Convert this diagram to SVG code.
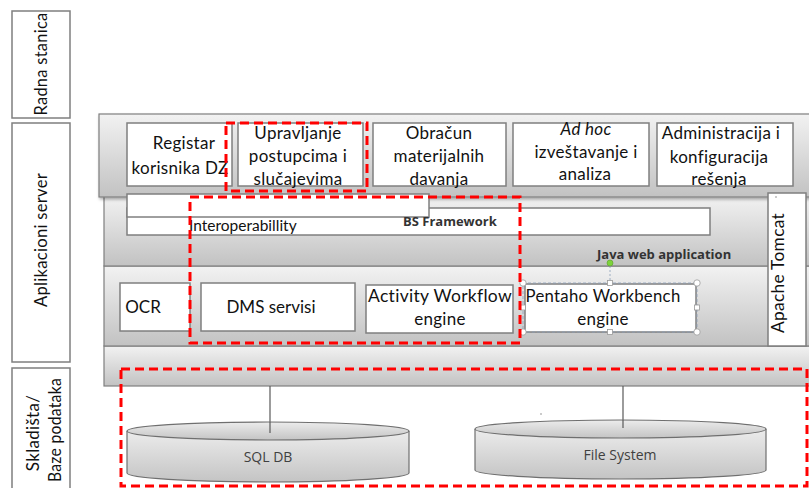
<svg xmlns="http://www.w3.org/2000/svg" width="809" height="488" viewBox="0 0 809 488">
<defs>
<linearGradient id="band" x1="0" y1="0" x2="0" y2="1">
<stop offset="0" stop-color="#f2f2f2"/>
<stop offset="1" stop-color="#c2c2c2"/>
</linearGradient>
<linearGradient id="cyl" x1="0" y1="0" x2="0" y2="1">
<stop offset="0" stop-color="#ececec"/>
<stop offset="1" stop-color="#c4c4c4"/>
</linearGradient>
<filter id="sh" x="-5%" y="-5%" width="110%" height="120%">
<feDropShadow dx="1" dy="2" stdDeviation="1.5" flood-color="#000" flood-opacity="0.3"/>
</filter>
</defs>
<style>
.lbl{fill:#fff;stroke:#7f7f7f;stroke-width:1.5}
.box{fill:#fff;stroke:#7f7f7f;stroke-width:1.5}
.band{fill:url(#band);stroke:#7f7f7f;stroke-width:1.2}
.t{font-family:Lato,"Liberation Sans",sans-serif;font-size:17px;letter-spacing:0.3px;fill:#111;text-anchor:middle}
.tb{font-family:"Open Sans","Liberation Sans",sans-serif;font-size:13px;font-weight:bold;fill:#333}
.red{fill:none;stroke:#ff0000;stroke-width:3;stroke-dasharray:9 5}
.cyl{fill:url(#cyl);stroke:#6f6f6f;stroke-width:1.2}
.ct{font-family:"Open Sans","Liberation Sans",sans-serif;font-size:14px;fill:#404040;text-anchor:middle}
.ln{stroke:#595959;stroke-width:1.2;fill:none}
</style>

<!-- tier labels -->
<g id="tier-radna">
<rect class="lbl" x="12" y="11" width="58" height="107"/>
<text class="t" transform="translate(47,64) rotate(-90)" textLength="103" lengthAdjust="spacingAndGlyphs">Radna stanica</text>
</g>
<g id="tier-aplikacioni">
<rect class="lbl" x="12" y="123" width="58" height="239"/>
<text class="t" transform="translate(47,240) rotate(-90)" textLength="134" lengthAdjust="spacingAndGlyphs">Aplikacioni server</text>
</g>
<g id="tier-skladista">
<rect class="lbl" x="12" y="368" width="58" height="125"/>
<text class="t" transform="translate(39,433) rotate(-90)">Skladišta/</text>
<text class="t" transform="translate(61,430) rotate(-90)" textLength="104" lengthAdjust="spacingAndGlyphs">Baze podataka</text>
</g>

<!-- bands -->
<g id="bands">
<rect class="band" x="104" y="346" width="710" height="40"/>
<rect class="band" x="104" y="266" width="710" height="80"/>
<rect class="band" x="104" y="196" width="710" height="70"/>
<rect class="band" x="99" y="114" width="715" height="83" filter="url(#sh)"/>
</g>

<!-- top row -->
<g id="registar">
<rect class="box" x="127" y="123" width="105" height="63"/>
<text class="t" x="184" y="149">Registar</text>
<text class="t" x="180" y="174">korisnika DZ</text>
</g>
<g id="upravljanje">
<rect class="box" x="238" y="123" width="125" height="63"/>
<text class="t" x="298" y="139">Upravljanje</text>
<text class="t" x="298" y="162">postupcima i</text>
<text class="t" x="298" y="185">slučajevima</text>
</g>
<g id="obracun">
<rect class="box" x="373" y="123" width="133" height="63"/>
<text class="t" x="439" y="139">Obračun</text>
<text class="t" x="439" y="162">materijalnih</text>
<text class="t" x="439" y="185">davanja</text>
</g>
<g id="adhoc">
<rect class="box" x="513" y="123" width="136" height="63"/>
<text class="t" x="586" y="135" font-style="italic">Ad hoc</text>
<text class="t" x="586" y="158">izveštavanje i</text>
<text class="t" x="585" y="180">analiza</text>
</g>
<g id="administracija">
<rect class="box" x="657" y="123" width="136" height="63"/>
<text class="t" x="721" y="139">Administracija i</text>
<text class="t" x="719" y="163">konfiguracija</text>
<text class="t" x="719" y="185">rešenja</text>
</g>

<!-- BS Framework -->
<g id="bs-framework">
<rect class="box" x="127" y="208" width="583" height="27"/>
<rect class="box" x="127" y="194" width="302" height="23"/>
<text class="t" x="189" y="231" style="text-anchor:start;font-size:15.5px;letter-spacing:0">Interoperabillity</text>
<text class="tb" x="403" y="226">BS Framework</text>
<text class="tb" x="597" y="259">Java web application</text>
</g>

<!-- Tomcat -->
<g id="tomcat">
<rect class="box" x="768" y="193" width="38" height="153"/>
<text class="t" transform="translate(784,273) rotate(-90)" textLength="120" lengthAdjust="spacingAndGlyphs">Apache Tomcat</text>
<circle cx="776" cy="197" r="0.8" fill="#888"/>
</g>

<!-- row 3 -->
<g id="ocr">
<rect class="box" x="120" y="283" width="70" height="48"/>
<text class="t" x="143" y="313" style="letter-spacing:0">OCR</text>
</g>
<g id="dms">
<rect class="box" x="201" y="283" width="154" height="48"/>
<text class="t" x="271" y="313" style="letter-spacing:0">DMS servisi</text>
</g>
<g id="activity">
<rect class="box" x="366" y="285" width="147" height="48"/>
<text class="t" x="440" y="302" textLength="144" lengthAdjust="spacingAndGlyphs">Activity Workflow</text>
<text class="t" x="440" y="325">engine</text>
</g>
<g id="pentaho">
<rect class="box" x="525" y="284" width="171" height="48"/>
<text class="t" x="603" y="302" textLength="155" lengthAdjust="spacingAndGlyphs">Pentaho Workbench</text>
<text class="t" x="603" y="325">engine</text>
<rect x="523" y="283" width="174" height="49" fill="none" stroke="#8aa0b8" stroke-width="0.8" stroke-dasharray="3 2"/>
<line x1="610" y1="266" x2="610" y2="283" stroke="#8aa0b8" stroke-width="0.8" stroke-dasharray="2 2"/>
<circle cx="610" cy="263" r="3" fill="#7dd33a" stroke="#5a9e2a" stroke-width="0.6"/>
<g fill="#fff" stroke="#999" stroke-width="0.8">
<circle cx="523" cy="283" r="3.2"/>
<circle cx="697" cy="283" r="3.2"/>
<circle cx="523" cy="332" r="3.2"/>
<circle cx="697" cy="332" r="3.2"/>
<rect x="607.5" y="280.5" width="5" height="5"/>
<rect x="607.5" y="329.5" width="5" height="5"/>
<rect x="520.5" y="305" width="5" height="5"/>
<rect x="694.5" y="305" width="5" height="5"/>
</g>
</g>

<!-- connectors -->
<g id="connectors">
<line class="ln" x1="270" y1="386" x2="270" y2="433"/>
<line class="ln" x1="623" y1="386" x2="623" y2="428"/>
</g>

<!-- databases -->
<g id="sqldb">
<path class="cyl" d="M127,431 L127,473 A141,9 0 0 0 409,473 L409,431"/>
<ellipse class="cyl" cx="268" cy="431" rx="141" ry="9"/>
<line class="ln" x1="270" y1="422" x2="270" y2="433"/>
<text class="ct" x="268" y="462">SQL DB</text>
</g>
<g id="filesystem">
<path class="cyl" d="M475,429 L475,470 A145.5,9 0 0 0 766,470 L766,429"/>
<ellipse class="cyl" cx="620.5" cy="429" rx="145.5" ry="9"/>
<line class="ln" x1="623" y1="420" x2="623" y2="428"/>
<text class="ct" x="620" y="460">File System</text>
</g>
<circle cx="541" cy="414" r="0.8" fill="#888"/>

<!-- red dashed highlights -->
<g id="highlights">
<rect class="red" x="226" y="123" width="141" height="68"/>
<rect class="red" x="190" y="197" width="330" height="146"/>
<rect class="red" x="121" y="369" width="686" height="117"/>
</g>
</svg>
